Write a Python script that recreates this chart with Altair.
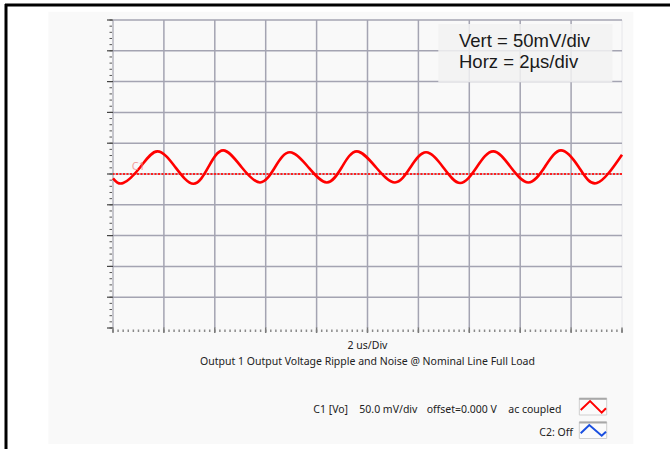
import altair as alt
import pandas as pd

# Scope trace: time in microseconds, C1 voltage in millivolts (ac coupled)
t_us = [0.00, 0.40, 1.07, 1.74, 2.45, 3.16, 3.745, 4.33, 5.055, 5.78, 6.365, 6.95,
        7.675, 8.40, 8.99, 9.58, 10.33, 11.08, 11.69, 12.30, 12.97, 13.64, 14.29,
        14.94, 15.63, 16.32, 16.96, 17.60, 18.305, 19.01, 20.00]
v_mv = [-7.0, -14.7, 11.0, 36.8, 11.0, -15.8, 11.0, 38.4, 11.0, -13.7, 11.0, 35.2,
        11.0, -13.7, 11.0, 36.8, 11.0, -13.7, 11.0, 35.2, 11.0, -14.7, 11.0,
        36.8, 11.0, -13.7, 11.0, 38.4, 11.0, -14.7, 31.4]

# Graticule: 10 x 10 divisions, 2 us/div and 50 mV/div
t_major = [0, 2, 4, 6, 8, 10, 12, 14, 16, 18, 20]
v_major = [-250, -200, -150, -100, -50, 0, 50, 100, 150, 200, 250]
t_minor = [round(0.2 * i, 1) for i in range(101)]
v_minor = [10 * i - 250 for i in range(51)]
zero_ref = [0]

W, H = 509, 308
X_DOM = [0, 20]
Y_DOM = [-250, 250]
xs = alt.Scale(domain=X_DOM, nice=False, zero=False)
ys = alt.Scale(domain=Y_DOM, nice=False, zero=False)

GRID = "#a4a4b2"
FONT_UI = "Noto Sans"
FONT_BOX = "Liberation Sans"
UI_SIZE = 10.5

one = alt.Data(values=[{"k": 0}])


def deco_rect(x, x2, y, y2, **kw):
    return alt.Chart(one).mark_rect(**kw).encode(
        x=alt.value(x), x2=alt.value(x2), y=alt.value(y), y2=alt.value(y2))


def deco_rule(x, x2, y, y2, **kw):
    return alt.Chart(one).mark_rule(**kw).encode(
        x=alt.value(x), x2=alt.value(x2), y=alt.value(y), y2=alt.value(y2))


def label(txt, x, y, **kw):
    return alt.Chart(one).mark_text(**kw).encode(
        x=alt.value(x), y=alt.value(y), text=alt.value(txt))


# page furniture: black frame lines and the light panel
frame_top = deco_rule(-108, 557, -15, -15, color="black", strokeWidth=3)
frame_left = deco_rule(-107, -107, -16, 429, color="black", strokeWidth=3)
panel = deco_rect(-64.7, 520.3, -8.3, 424, color="#f9f9f9")

# graticule lines
vgrid = alt.Chart(pd.DataFrame({"t": t_major[1:-1]})).mark_rule(
    color=GRID, strokeWidth=1.5).encode(x=alt.X("t:Q", scale=xs, axis=None))
hgrid = alt.Chart(pd.DataFrame({"v": v_major[1:]})).mark_rule(
    color=GRID, strokeWidth=1.5).encode(y=alt.Y("v:Q", scale=ys, axis=None))
left_edge = deco_rule(0, 0, 0, H, color="#b4b4be", strokeWidth=1.5)
right_edge = deco_rule(W, W, 0, H, color="#e6e6ea", strokeWidth=1)

# axis tick marks (major every division, minor every fifth / tenth)
ym = alt.Chart(pd.DataFrame({"v": v_minor})).mark_rule(
    color="#555555", strokeWidth=1).encode(
    y=alt.Y("v:Q", scale=ys, axis=None), x=alt.value(-3.5), x2=alt.value(-1))
yM = alt.Chart(pd.DataFrame({"v": v_major})).mark_rule(
    color="#444444", strokeWidth=1.2).encode(
    y=alt.Y("v:Q", scale=ys, axis=None), x=alt.value(-6), x2=alt.value(0))
xm = alt.Chart(pd.DataFrame({"t": t_minor})).mark_rule(
    color="#8a8a8a", strokeWidth=1.5).encode(
    x=alt.X("t:Q", scale=xs, axis=None), y=alt.value(H + 1.5), y2=alt.value(H + 4))
xM = alt.Chart(pd.DataFrame({"t": t_major})).mark_rule(
    color="#7a7a7a", strokeWidth=1.5).encode(
    x=alt.X("t:Q", scale=xs, axis=None), y=alt.value(H - 0.5), y2=alt.value(H + 5))

# ground reference and the trace itself
ref = alt.Chart(pd.DataFrame({"v": zero_ref})).mark_rule(
    color="#ff2020", strokeWidth=2, strokeDash=[2, 1.5]).encode(
    y=alt.Y("v:Q", scale=ys, axis=None))
trace = alt.Chart(pd.DataFrame({"t": t_us, "v": v_mv})).mark_line(
    color="#ff0000", strokeWidth=2.6, interpolate="natural").encode(
    x=alt.X("t:Q", scale=xs, axis=None),
    y=alt.Y("v:Q", scale=ys, axis=None))
c1_tag = alt.Chart(pd.DataFrame({"t": [1.0], "v": [12]})).mark_text(
    text="C1", color="#f08a8a", fontSize=11, font=FONT_UI, opacity=0.8).encode(
    x=alt.X("t:Q", scale=xs, axis=None), y=alt.Y("v:Q", scale=ys, axis=None))

# scale annotation box
note_box = deco_rect(325.3, 499.3, 4, 62.3, color="#f2f2f2", opacity=0.85)
note1 = label("Vert = 50mV/div", 346, 26.7, font=FONT_BOX, fontSize=18.5,
              align="left", baseline="alphabetic", color="#1a1a1a")
note2 = label("Horz = 2\u00b5s/div", 346, 48.3, font=FONT_BOX, fontSize=18.5,
              align="left", baseline="alphabetic", color="#1a1a1a")

# captions under the graticule
cap1 = label("2 us/Div", W / 2, 329, font=FONT_UI, fontSize=UI_SIZE,
             align="center", baseline="alphabetic", color="#222222")
cap2 = label("Output 1 Output Voltage Ripple and Noise @ Nominal Line Full Load",
             W / 2, 344.5, font=FONT_UI, fontSize=UI_SIZE, align="center",
             baseline="alphabetic", color="#222222")

# channel status line
st = dict(font=FONT_UI, fontSize=UI_SIZE, align="left", baseline="alphabetic",
          color="#222222")
s1 = label("C1 [Vo]", 200.3, 392.7, **st)
s2 = label("50.0 mV/div", 246.3, 392.7, **st)
s3 = label("offset=0.000 V", 313.7, 392.7, **st)
s4 = label("ac coupled", 395.3, 392.7, **st)
s5 = label("C2: Off", 426.3, 415.7, **st)

# channel glyphs
box1 = deco_rect(466.3, 493.7, 378.3, 395, fill="#fbfbfb", stroke="#cfcfcf", strokeWidth=1)
box1t = deco_rule(466.3, 493.7, 378.8, 378.8, color="#a8a8a8", strokeWidth=2)
box2 = deco_rect(466.3, 493.7, 402, 418.5, fill="#fbfbfb", stroke="#cfcfcf", strokeWidth=1)
box2t = deco_rule(466.3, 493.7, 402.5, 402.5, color="#a8a8a8", strokeWidth=2)
glyph1 = alt.Chart(one).mark_point(
    shape="M-1,0.25L-0.26,-0.46L0.66,0.46L1,0.11", filled=False,
    stroke="#ff0000", strokeWidth=2, size=640, opacity=1).encode(
    x=alt.value(480.35), y=alt.value(386.85))
glyph2 = alt.Chart(one).mark_point(
    shape="M-1,0.23L-0.32,-0.42L0.66,0.42L1,0.11", filled=False,
    stroke="#1a4fe0", strokeWidth=2, size=640, opacity=1).encode(
    x=alt.value(480.35), y=alt.value(410.35))

chart = alt.layer(
    panel, frame_top, frame_left,
    left_edge, right_edge, vgrid, hgrid,
    ym, yM, xm, xM,
    note_box, note1, note2,
    ref, trace, c1_tag,
    cap1, cap2, s1, s2, s3, s4, s5,
    box1, box1t, box2, box2t, glyph1, glyph2,
).properties(
    width=W, height=H,
    padding={"left": 113, "top": 20, "right": 48, "bottom": 121},
    autosize=alt.AutoSizeParams(type="none"),
    background="white",
).configure_view(stroke=None)

chart.save("out.html", embed_options={"renderer": "svg", "actions": False})
